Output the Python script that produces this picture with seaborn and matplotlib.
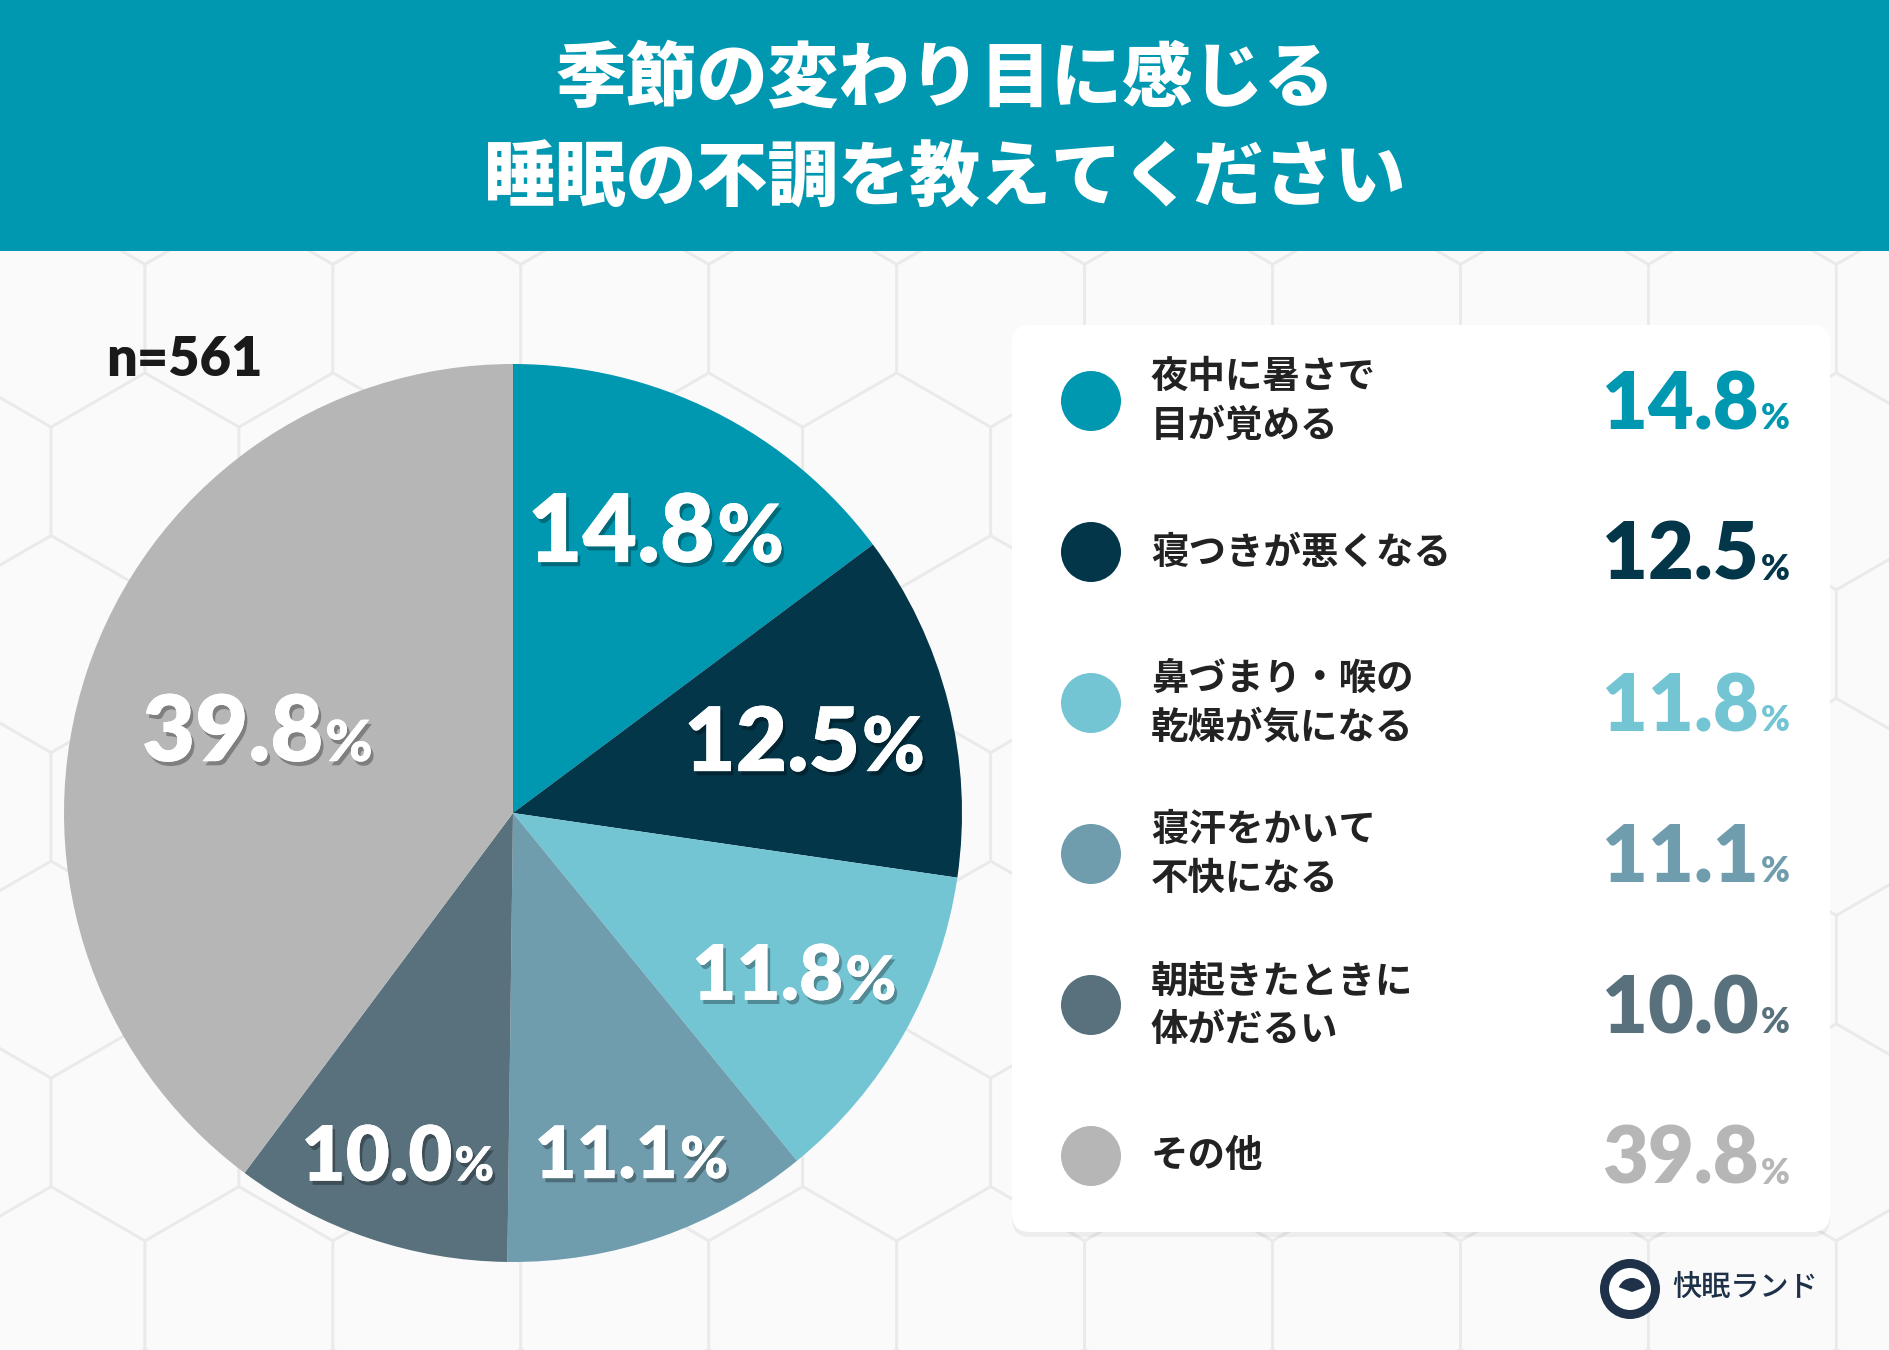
import matplotlib
matplotlib.use('Agg')
import matplotlib.pyplot as plt
import matplotlib.patches as mpatches
import matplotlib.patheffects as pe
import seaborn as sns
import numpy as np

# data
categories = ['夜中に暑さで\n目が覚める', '寝つきが悪くなる', '鼻づまり・喉の\n乾燥が気になる',
              '寝汗をかいて\n不快になる', '朝起きたときに\n体がだるい', 'その他']
shares = [14.8, 12.5, 11.8, 11.1, 10.0, 39.8]
slice_colors = ['#0097B0', '#04364A', '#74C5D4', '#6F9DAE', '#58717D', '#B6B6B6']
title_lines = ['季節の変わり目に感じる', '睡眠の不調を教えてください']
sample_note = 'n=561'
brand = '快眠ランド'

sns.set_theme(style='white')
plt.rcParams['font.family'] = ['Noto Sans CJK JP', 'DejaVu Sans']
JP = ['Noto Sans CJK JP', 'DejaVu Sans']
NUM = ['Lato', 'Noto Sans CJK JP', 'DejaVu Sans']
palette = sns.color_palette(slice_colors)

W, H = 1890, 1350
fig = plt.figure(figsize=(W / 100, H / 100), dpi=100, facecolor='#F4F4F4')

# background axes in pixel units
bg = fig.add_axes([0, 0, 1, 1])
bg.set_xlim(0, W)
bg.set_ylim(H, 0)
bg.axis('off')
bg.set_zorder(0)

# faint hexagon tiles
R = 108.5
hw = R * np.sqrt(3)
for k in range(-1, 10):
    cy = 1295 - 1.5 * R * k
    off = 0 if k % 2 == 0 else -hw / 2
    for j in range(-1, 12):
        cx = 145 + hw / 2 + off + hw * j
        bg.add_patch(mpatches.RegularPolygon((cx, cy), 6, radius=R, orientation=0,
                                             fc='#FAFAFA', ec='#EAEAEA', lw=2))

# title band
bg.add_patch(mpatches.Rectangle((0, 0), W, 251, fc='#0098B0', ec='none', zorder=2))

# legend card
bg.add_patch(mpatches.FancyBboxPatch((1012, 330), 818, 907, boxstyle='round,pad=0,rounding_size=18',
                                     fc='black', ec='none', alpha=0.05, zorder=2))
bg.add_patch(mpatches.FancyBboxPatch((1012, 325), 818, 907, boxstyle='round,pad=0,rounding_size=18',
                                     fc='white', ec='none', zorder=3))

# pie
ax = fig.add_axes([64 / W, (H - 1262) / H, 898 / W, 898 / H])
ax.set_zorder(1)
wedges, _ = ax.pie(shares, colors=palette, startangle=90, counterclock=False, radius=1,
                   wedgeprops=dict(linewidth=0))
ax.set_xlim(-1, 1)
ax.set_ylim(-1, 1)
ax.set_aspect('equal')
ax.axis('off')

# foreground text axes
fg = fig.add_axes([0, 0, 1, 1])
fg.set_xlim(0, W)
fg.set_ylim(H, 0)
fg.axis('off')
fg.patch.set_alpha(0)
fg.set_zorder(3)

renderer = fig.canvas.get_renderer()


def pct_text(x, y, num, fs, fs_pct, color, align, shadow=False, gap=2):
    kw = dict(family=NUM, fontweight='heavy', color=color, va='baseline', ha='left')
    t1 = fg.text(x, y, num, fontsize=fs, **kw)
    t2 = fg.text(x, y, '%', fontsize=fs_pct, **kw)
    if shadow:
        for t in (t1, t2):
            t.set_path_effects([pe.withSimplePatchShadow(offset=(2, -3), shadow_rgbFace='black', alpha=0.3),
                                pe.Normal()])
    w1 = t1.get_window_extent(renderer).width
    w2 = t2.get_window_extent(renderer).width
    total = w1 + gap + w2
    x0 = x - total / 2 if align == 'center' else x - total
    t1.set_x(x0)
    t2.set_x(x0 + w1 + gap)


# title
fg.text(W / 2, 80, title_lines[0], family=JP, fontsize=51, fontweight='heavy', color='white',
        ha='center', va='center')
fg.text(W / 2, 180, title_lines[1], family=JP, fontsize=51, fontweight='heavy', color='white',
        ha='center', va='center')

fg.text(106, 376, sample_note, family=NUM, fontsize=39, fontweight='heavy', color='#1A1A1A',
        ha='left', va='baseline')

# labels inside the pie
lab_r = [0.71, 0.67, 0.72, 0.80, 0.80, 0.60]
lab_fs = [68, 64, 55, 52, 55, 66]
pct_ratio = [0.85, 0.85, 0.8, 0.8, 0.62, 0.62]
inv = fg.transData.inverted()
for w, v, rr, fs, pr in zip(wedges, shares, lab_r, lab_fs, pct_ratio):
    mid = np.deg2rad((w.theta1 + w.theta2) / 2)
    px, py = inv.transform(ax.transData.transform((rr * np.cos(mid), rr * np.sin(mid))))
    pct_text(px, py + fs / 2, f'{v:.1f}', fs, fs * pr, 'white', 'center', shadow=True)

# legend rows
for i, (cat, v, c) in enumerate(zip(categories, shares, palette)):
    row = 401 + 151 * i
    bg.add_patch(mpatches.Circle((1091, row), 30, fc=c, ec='none', zorder=4))
    fg.text(1151, row, cat, family=JP, fontsize=27, fontweight='bold', color='#222222',
            ha='left', va='center', linespacing=1.3)
    pct_text(1790, row + 28, f'{v:.1f}', 57, 25, c, 'right')

# brand logo
navy = '#1E3148'
bg.add_patch(mpatches.Circle((1630, 1289), 30, fc=navy, ec='none', zorder=4))
bg.add_patch(mpatches.Circle((1630, 1289), 21, fc='white', ec='none', zorder=5))
bg.add_patch(mpatches.Wedge((1632, 1292), 14, 200, 340, fc=navy, ec='none', zorder=6))
fg.text(1672, 1287, brand, family=JP, fontsize=21, fontweight='medium', color=navy,
        ha='left', va='center')

fig.savefig('out.png', dpi=100, facecolor=fig.get_facecolor())
